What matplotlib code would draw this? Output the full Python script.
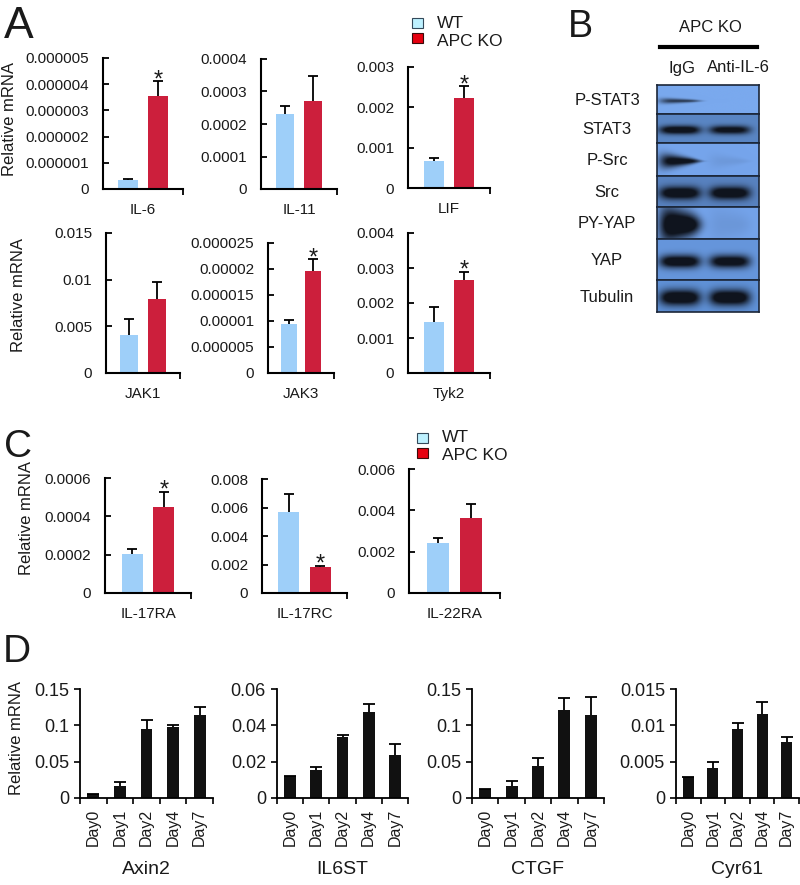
import numpy as np
import matplotlib
matplotlib.use('Agg')
import matplotlib.pyplot as plt
from matplotlib.patches import Rectangle
from matplotlib.lines import Line2D
from matplotlib.colors import to_rgb
from matplotlib.ticker import FuncFormatter

plt.rcParams['font.family'] = ['Liberation Sans', 'DejaVu Sans']

# ---- panel A: WT vs APC KO ----
genes_a = ['IL-6', 'IL-11', 'LIF', 'JAK1', 'JAK3', 'Tyk2']
wt_a = [0.33e-6, 0.000231, 0.00067, 0.00407, 9.4e-6, 0.00146]
wt_a_err = [0.04e-6, 0.000023, 0.00007, 0.00168, 0.7e-6, 0.00043]
ko_a = [3.56e-6, 0.000272, 0.00224, 0.0079, 1.967e-5, 0.00266]
ko_a_err = [0.56e-6, 0.000076, 0.00028, 0.00188, 2.2e-6, 0.00023]
sig_a = [True, False, True, False, True, True]
ymax_a = [5e-6, 0.0004, 0.003, 0.015, 2.5e-5, 0.004]
nstep_a = [5, 4, 3, 3, 5, 4]

# ---- panel C ----
genes_c = ['IL-17RA', 'IL-17RC', 'IL-22RA']
wt_c = [0.000203, 0.00565, 0.00243]
wt_c_err = [0.000027, 0.00127, 0.00022]
ko_c = [0.00045, 0.0018, 0.00365]
ko_c_err = [0.000077, 0.00012, 0.00066]
sig_c = [True, True, False]
ymax_c = [0.0006, 0.008, 0.006]
nstep_c = [3, 4, 3]

# ---- panel B: western blot ----
blot_rows = ['P-STAT3', 'STAT3', 'P-Src', 'Src', 'PY-YAP', 'YAP', 'Tubulin']
blot_lanes = ['IgG', 'Anti-IL-6']
band_igg = [0.55, 0.95, 0.85, 1.0, 1.0, 0.95, 1.0]
band_anti = [0.0, 0.85, 0.06, 1.0, 0.06, 0.9, 1.0]
band_thick = [0.14, 0.3, 0.3, 0.42, 0.9, 0.32, 0.5]
band_taper = [0.5, 0.0, 0.7, 0.0, 0.4, 0.0, 0.0]
row_bg = ['#7aa9ee', '#5a86c4', '#76a5ec', '#5882c0', '#74a3ea', '#6696dc', '#6092d8']

# ---- panel D: time course ----
days = ['Day0', 'Day1', 'Day2', 'Day4', 'Day7']
genes_d = ['Axin2', 'IL6ST', 'CTGF', 'Cyr61']
axin2 = [0.0059, 0.016, 0.0951, 0.0974, 0.1148]
axin2_err = [0.0, 0.0055, 0.012, 0.0032, 0.010]
il6st = [0.0119, 0.01555, 0.0338, 0.0474, 0.0236]
il6st_err = [0.0004, 0.0013, 0.0011, 0.0042, 0.0062]
ctgf = [0.0124, 0.017, 0.0437, 0.1215, 0.1146]
ctgf_err = [0.0, 0.006, 0.0115, 0.0161, 0.0248]
cyr61 = [0.0029, 0.0041, 0.00943, 0.0116, 0.00764]
cyr61_err = [0.0, 0.0008, 0.00083, 0.0016, 0.00069]
ymax_d = [0.15, 0.06, 0.15, 0.015]

WT_COL = '#9ecff9'
KO_COL = '#cc1f3c'
TXT = '#1a1a1a'

W, H = 800, 885
fig = plt.figure(figsize=(W / 100, H / 100), dpi=100)


def px_axes(l, t, r, b):
    return fig.add_axes([l / W, 1 - b / H, (r - l) / W, (b - t) / H])


def ftext(x, y, s, **kw):
    kw.setdefault('color', TXT)
    fig.text(x / W, 1 - y / H, s, **kw)


def fmt(v, pos):
    return f'{v:.6f}'.rstrip('0').rstrip('.')


def upper_err(ax, x, y, e, cap):
    y = np.asarray(y)
    e = np.asarray(e)
    ax.vlines(x, y, y + e, color='k', lw=1.3, zorder=3)
    ax.plot(x, y + e, ls='none', marker='_', ms=cap, mew=1.3, color='k', zorder=3)


def pair_chart(box, name, wt, wte, ko, koe, sig, ymax, nstep):
    ax = px_axes(*box)
    x = np.arange(2)
    ax.bar(x, [wt, ko], width=0.66, color=[WT_COL, KO_COL], zorder=2)
    upper_err(ax, x, [wt, ko], [wte, koe], 7)
    if sig:
        ax.annotate('*', xy=(1, ko + koe), xytext=(0, -5), textcoords='offset pixels',
                    ha='center', va='baseline', fontsize=17, color=TXT)
    ax.set_xlim(-0.85, 1.85)
    ax.set_ylim(0, ymax)
    ax.set_yticks(np.linspace(0, ymax, nstep + 1))
    ax.yaxis.set_major_formatter(FuncFormatter(fmt))
    ax.set_xticks([1.85])
    ax.set_xticklabels([''])
    ax.tick_params(axis='y', direction='in', length=4, width=1.3, pad=10,
                   labelsize=11, labelcolor=TXT)
    ax.tick_params(axis='x', direction='out', length=4, width=1.3)
    for s in ['top', 'right']:
        ax.spines[s].set_visible(False)
    for s in ['left', 'bottom']:
        ax.spines[s].set_linewidth(1.5)
    ax.annotate(name, xy=(0.5, 0), xycoords='axes fraction', xytext=(0, -14),
                textcoords='offset pixels', ha='center', va='top', fontsize=11, color=TXT)
    return ax


# panel A
boxes_a = [(103, 58, 183, 189), (261, 59, 337, 189), (408, 67, 490, 188),
           (106, 233, 180, 373), (268, 243, 334, 373), (408, 233, 490, 373)]
for i in range(6):
    pair_chart(boxes_a[i], genes_a[i], wt_a[i], wt_a_err[i], ko_a[i], ko_a_err[i],
               sig_a[i], ymax_a[i], nstep_a[i])

# panel C
boxes_c = [(105, 478, 191, 593), (262, 479, 347, 593), (409, 469, 500, 593)]
for i in range(3):
    pair_chart(boxes_c[i], genes_c[i], wt_c[i], wt_c_err[i], ko_c[i], ko_c_err[i],
               sig_c[i], ymax_c[i], nstep_c[i])


def legend(x, y_sq, y_txt):
    cols = [('#bdf1ff', '#34495a'), ('#e6000f', '#3a0a0a')]
    for (fc, ec), ys, yt, lab in zip(cols, y_sq, y_txt, ['WT', 'APC KO']):
        fig.add_artist(Rectangle((x / W, 1 - (ys + 10) / H), 11 / W, 10 / H,
                                 facecolor=fc, edgecolor=ec, lw=0.8,
                                 transform=fig.transFigure))
        ftext(x + 25, yt, lab, ha='left', va='center', fontsize=12.5)


legend(412, [18, 33], [23, 42])
legend(417, [433, 448], [437, 455])

# panel D
d_vals = [axin2, il6st, ctgf, cyr61]
d_errs = [axin2_err, il6st_err, ctgf_err, cyr61_err]
boxes_d = [(80, 689, 213, 798), (277, 689, 408, 798), (472, 689, 604, 798), (676, 689, 799, 798)]
for i in range(4):
    ax = px_axes(*boxes_d[i])
    x = np.arange(len(days))
    ax.bar(x, d_vals[i], width=0.45, color='#111111', zorder=2)
    upper_err(ax, x, d_vals[i], d_errs[i], 8)
    ax.set_xlim(-0.5, len(days) - 0.5)
    ax.set_ylim(0, ymax_d[i])
    ax.set_yticks(np.linspace(0, ymax_d[i], 4))
    ax.yaxis.set_major_formatter(FuncFormatter(fmt))
    ax.set_xticks(x)
    ax.set_xticklabels(days, rotation=90)
    ax.set_xticks(np.arange(-0.5, len(days)), minor=True)
    ax.tick_params(axis='x', which='major', length=0, pad=8, labelsize=11.5, labelcolor=TXT)
    ax.tick_params(axis='x', which='minor', direction='out', length=4, width=1.2)
    ax.tick_params(axis='y', direction='out', length=4, width=1.2, pad=4,
                   labelsize=13, labelcolor=TXT)
    for s in ['top', 'right']:
        ax.spines[s].set_visible(False)
    for s in ['left', 'bottom']:
        ax.spines[s].set_linewidth(1.3)
    ax.annotate(genes_d[i], xy=(0.5, 0), xycoords='axes fraction', xytext=(0, -72),
                textcoords='offset pixels', ha='center', va='center', fontsize=14, color=TXT)

# panel B: blot
row_edges = [85, 114, 143, 176, 207, 239, 280, 312]
lane_x = [0.225, 0.715]
dark = np.array([0.06, 0.08, 0.12])
nx, ny = 160, 50
xs = np.linspace(0, 1, nx)
ys = np.linspace(0, 1, ny)[:, None]
for i, name in enumerate(blot_rows):
    ax = px_axes(657, row_edges[i], 759, row_edges[i + 1])
    alpha = np.zeros((ny, nx))
    for xc, inten in zip(lane_x, [band_igg[i], band_anti[i]]):
        hw = 0.2
        prof_x = np.exp(-np.abs((xs - xc) / hw) ** 4)
        sig = band_thick[i] / 2 * np.clip(1 + band_taper[i] * (xc - xs) / hw, 0.15, None)
        prof_y = np.exp(-((ys - 0.55) / sig) ** 2)
        alpha += np.clip(1.4 * inten * prof_x * prof_y, 0, 1)
    alpha = np.clip(alpha, 0, 1)[..., None]
    img = np.array(to_rgb(row_bg[i])) * (1 - alpha) + dark * alpha
    ax.imshow(img, extent=(0, 1, 1, 0), aspect='auto', interpolation='bilinear')
    ax.set_xticks([])
    ax.set_yticks([])
    for s in ax.spines.values():
        s.set_color('#1b2638')
        s.set_linewidth(1.2)
    ftext(607, (row_edges[i] + row_edges[i + 1]) / 2 + 1, name, ha='center', va='center', fontsize=12)

ftext(710, 28, 'APC KO', ha='center', va='center', fontsize=12)
fig.add_artist(Line2D([660 / W, 757 / W], [1 - 47 / H, 1 - 47 / H], color='k', lw=3,
                      transform=fig.transFigure))
ftext(682, 68, blot_lanes[0], ha='center', va='center', fontsize=12)
ftext(738, 68, blot_lanes[1], ha='center', va='center', fontsize=12)

# panel letters and y labels
for lab, x, y, fs in [('A', 4, 38, 32), ('B', 568, 37, 27), ('C', 4, 457, 28), ('D', 3, 662, 28)]:
    ftext(x, y, lab, ha='left', va='baseline', fontsize=fs)
for x, y in [(10, 119), (19, 295), (27, 518), (17, 738)]:
    ftext(x, y, 'Relative mRNA', rotation=90, ha='center', va='center', fontsize=12)

fig.savefig('out.png', dpi=100)
